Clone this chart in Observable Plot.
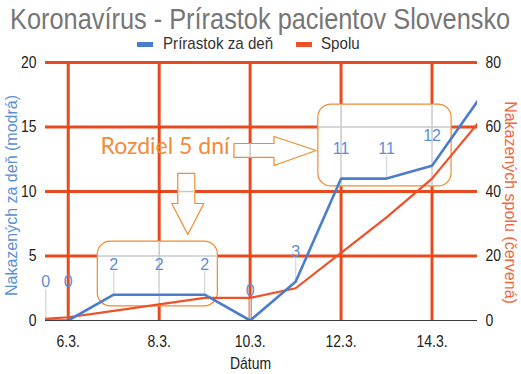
<!DOCTYPE html>
<html>
<head>
<meta charset="utf-8">
<script src="https://cdn.jsdelivr.net/npm/d3@7"></script>
<script src="https://cdn.jsdelivr.net/npm/@observablehq/plot@0.6"></script>
<style>
  html, body { margin: 0; padding: 0; background: #fff; }
  #wrap { position: relative; width: 521px; height: 374px; overflow: hidden; }
  .t { position: absolute; white-space: nowrap; font-family: "Liberation Sans", Arial, sans-serif; transform-origin: 0 50%; }
  #title { left: 10px; top: 4px; font-size: 30px; line-height: 30px; color: #767676; transform: scaleX(0.845); z-index: 2; }
  .lg { top: 35px; font-size: 17px; line-height: 17px; color: #333; transform: scaleX(0.89); z-index: 2; }
  .sw { position: absolute; top: 42px; width: 16px; height: 5px; z-index: 2; }
  svg { position: absolute; left: 0; top: 0; }
</style>
</head>
<body>
<div id="wrap">
  <div id="title" class="t">Koronavírus - Prírastok pacientov Slovensko</div>
  <div class="sw" style="left:137px;background:#4a7dcc"></div>
  <div class="t lg" style="left:163px">Prírastok za deň</div>
  <div class="sw" style="left:296px;background:#ef5027"></div>
  <div class="t lg" style="left:321px">Spolu</div>
</div>
<script>
// ---- data (day of March) ----
const days  = [5, 6, 7, 8, 9, 10, 11, 12, 13, 14, 15];
const daily = [0, 0, 2, 2, 2, 0, 3, 11, 11, 12, 17];   // Prírastok za deň (left axis)
const total = [0, 1, 3, 5, 7, 7, 10, 21, 32, 44, 61];  // Spolu (right axis)
const xTicks = [6, 8, 10, 12, 14];
const yTicksLeft = [0, 5, 10, 15, 20];
const rightFactor = 4; // right axis 0–80 vs left 0–20

// ---- annotation shapes (in data units: day, left-axis value) ----
const boxes = [
  {x1: 6.65, x2: 9.29, y1: 1.1, y2: 6.12},
  {x1: 11.5, x2: 14.43, y1: 10.39, y2: 16.74}
];
const arrowRightX = [9.644, 10.525, 10.525, 11.451, 10.525, 10.525, 9.644, 9.644];
const arrowRightY = [13.72, 13.72, 14.26, 13.18, 12.02, 12.64, 12.64, 13.72];
const arrowDownX  = [8.409, 8.784, 8.784, 8.982, 8.630, 8.277, 8.409, 8.409];
const arrowDownY  = [11.40, 11.40, 9.07, 9.07, 6.67, 9.07, 9.07, 11.40];
const noteText = "Rozdiel 5 dní";
const noteX = 6.71, noteY = 13.5;

const rows = days.map((d, i) => ({day: d, daily: daily[i], total: total[i], totalScaled: total[i] / rightFactor}));
const arrows = [
  ...arrowRightX.map((x, i) => ({id: "r", x, y: arrowRightY[i]})),
  ...arrowDownX.map((x, i) => ({id: "d", x, y: arrowDownY[i]}))
];

const RED = "#e84a1e", BLUE = "#4a7dcc", SERIES_RED = "#ef5027", ORANGE = "#f08a2e", LBLUE = "#5b8fd6";
const GRAY = "#c9c9c9";
const NARROW = "'Liberation Sans', Arial, sans-serif ";  // trailing space marks texts to condense
const tickFont = {fontSize: 17, fontFamily: NARROW};
const labelFont = "'Liberation Sans', Arial, sans-serif";

const labeled = rows.filter(r => r.day >= 7 && r.day <= 14);
const early = rows.filter(r => r.day === 6);
const first = rows.filter(r => r.day < 6);

const plot = Plot.plot({
  width: 521,
  height: 374,
  marginTop: 62,
  marginBottom: 54,
  marginLeft: 45,
  marginRight: 44,
  style: {background: "transparent", overflow: "visible"},
  x: {type: "linear", domain: [5.5, 15]},
  y: {domain: [0, 20]},
  marks: [
    // red grid
    Plot.ruleY([5, 10, 15, 20], {stroke: RED, strokeWidth: 3}),
    Plot.ruleX(xTicks, {stroke: RED, strokeWidth: 3}),
    Plot.ruleY([0], {stroke: "#3a3a3a", strokeWidth: 1}),
    // annotation shapes
    Plot.rect(boxes, {x1: "x1", x2: "x2", y1: "y1", y2: "y2", rx: 13, fill: "white", stroke: ORANGE, strokeWidth: 1.2}),
    Plot.line(arrows, {x: "x", y: "y", z: "id", fill: "white", stroke: ORANGE, strokeWidth: 1.2, curve: "linear-closed"}),
    // grey grid shown through shapes
    Plot.ruleY([5, 10, 15], {stroke: GRAY, strokeWidth: 1.5}),
    Plot.ruleX(xTicks, {stroke: GRAY, strokeWidth: 1.5}),
    // leader lines to data labels
    Plot.ruleX(labeled, {x: "day", y1: "daily", y2: "daily", insetTop: -23, stroke: "#dcdcdc", strokeWidth: 1.5}),
    Plot.ruleX(first, {x: "day", y1: "daily", y2: "daily", insetTop: -31, dx: 23, stroke: "#dcdcdc", strokeWidth: 1.5, clip: false}),
    // series
    Plot.line(rows, {x: "day", y: "totalScaled", stroke: SERIES_RED, strokeWidth: 2.2, clip: true}),
    Plot.line(rows, {x: "day", y: "daily", stroke: BLUE, strokeWidth: 2.6, clip: true}),
    // data labels
    Plot.text(labeled, {x: "day", y: "daily", text: d => String(d.daily), dy: -30, fill: LBLUE, fontSize: 16, fontFamily: labelFont}),
    Plot.text(early, {x: "day", y: "daily", text: d => String(d.daily), dy: -39, fill: LBLUE, fontSize: 16, fontFamily: labelFont}),
    Plot.text(first, {x: "day", y: "daily", text: d => String(d.daily), dy: -39, dx: 23, fill: LBLUE, fontSize: 16, fontFamily: labelFont, clip: false}),
    // annotation text
    Plot.text([noteText], {x: noteX, y: noteY, text: d => d, textAnchor: "start", fill: "#f28c3a", fontSize: 23, fontFamily: "Lato, 'Open Sans', sans-serif"}),
    // axes
    Plot.axisY({ticks: yTicksLeft, tickSize: 0, tickPadding: 9, label: null, color: "#222", ...tickFont}),
    Plot.axisY({anchor: "right", ticks: yTicksLeft, tickFormat: d => String(d * rightFactor), tickSize: 0, tickPadding: 8, label: null, color: "#222", ...tickFont}),
    Plot.axisX({ticks: xTicks, tickFormat: d => d + ".3.", tickSize: 0, tickPadding: 14, label: null, color: "#222", ...tickFont}),
    // axis titles
    Plot.text(["Nakazených za deň (modrá)"], {frameAnchor: "left", textAnchor: "middle", lineAnchor: "middle", dx: -34, dy: 4, rotate: -90, text: d => d, fill: LBLUE, fontSize: 16, fontFamily: labelFont}),
    Plot.text(["Nakazených spolu (červená)"], {frameAnchor: "right", textAnchor: "middle", lineAnchor: "middle", dx: 33, dy: 11, rotate: 90, text: d => d, fill: "#f0663e", fontSize: 16, fontFamily: labelFont}),
    Plot.text(["Dátum"], {frameAnchor: "bottom", textAnchor: "middle", lineAnchor: "middle", dy: 43, dx: -11, text: d => d, fill: "#222", ...tickFont})
  ]
});

// clip grey grid to the interior of the annotation shapes
(function () {
  const svgNS = "http://www.w3.org/2000/svg";
  const defs = document.createElementNS(svgNS, "defs");
  const cp = document.createElementNS(svgNS, "clipPath");
  cp.setAttribute("id", "shapeclip");
  plot.querySelectorAll('g[fill="white"]').forEach(g => {
    const gt = g.getAttribute("transform") || "";
    g.querySelectorAll("rect, path").forEach(el => {
      const c = el.cloneNode(true);
      const t = (gt + " " + (el.getAttribute("transform") || "")).trim();
      if (t) c.setAttribute("transform", t);
      cp.appendChild(c);
    });
  });
  defs.appendChild(cp);
  plot.insertBefore(defs, plot.firstChild);
  plot.querySelectorAll('g[stroke="' + GRAY + '"]').forEach(g => g.setAttribute("clip-path", "url(#shapeclip)"));
})();

document.getElementById("wrap").insertBefore(plot, document.getElementById("wrap").firstChild);

// condense tick labels (reference uses a narrow face)
plot.querySelectorAll('[font-family="' + NARROW + '"] text').forEach(t => {
  const L = t.getComputedTextLength();
  t.setAttribute("textLength", (L * 0.82).toFixed(1));
  t.setAttribute("lengthAdjust", "spacingAndGlyphs");
});
</script>
</body>
</html>
